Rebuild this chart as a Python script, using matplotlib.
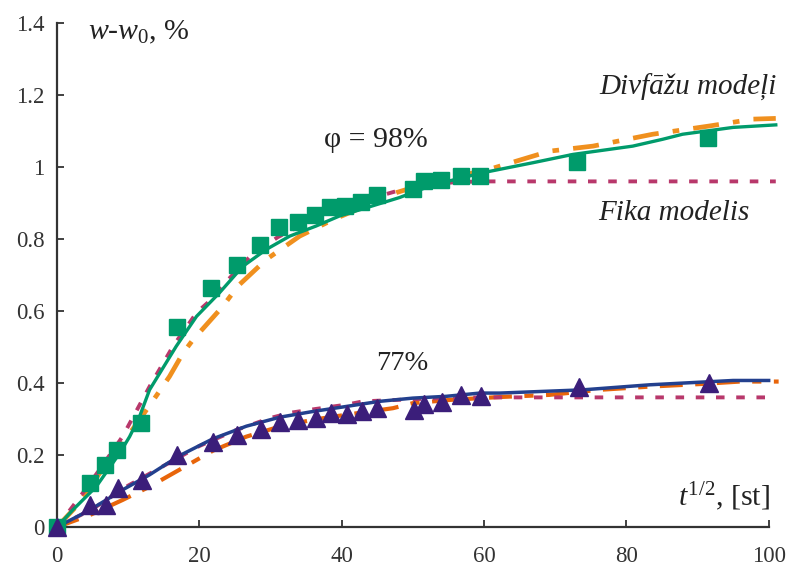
import matplotlib
matplotlib.use("Agg")
import matplotlib.pyplot as plt

plt.rcParams['font.family'] = ['Liberation Serif', 'DejaVu Serif']
plt.rcParams['mathtext.fontset'] = 'custom'
plt.rcParams['mathtext.rm'] = 'Liberation Serif'
plt.rcParams['mathtext.it'] = 'Liberation Serif:italic'

# ---- data: phi = 98% ----
sq98_x = [0, 4.7, 6.8, 8.4, 11.8, 16.8, 21.7, 25.3, 28.5, 31.2, 33.9, 36.3, 38.4, 40.5,
          42.7, 44.9, 50.0, 51.5, 54.0, 56.7, 59.5, 73.1, 91.5]
sq98_y = [0, 0.122, 0.172, 0.213, 0.29, 0.556, 0.664, 0.729, 0.783, 0.833, 0.847, 0.868,
          0.889, 0.892, 0.902, 0.922, 0.938, 0.96, 0.965, 0.976, 0.975, 1.015, 1.08]

fit98_x = [0, 2.2, 5.5, 8.8, 10.2, 11.6, 13, 16.75, 19.6, 22.8, 26.1, 29.4, 32.7, 36.4,
           39.7, 43.5, 48.1, 52.8, 59.8, 66.9, 72.5, 80.9, 85.1, 87.9, 95, 101]
fit98_y = [0, 0.047, 0.112, 0.205, 0.251, 0.307, 0.381, 0.502, 0.585, 0.65, 0.724, 0.771,
           0.808, 0.836, 0.864, 0.887, 0.915, 0.95, 0.984, 1.012, 1.035, 1.058, 1.077,
           1.091, 1.11, 1.117]

div98_x = [0, 2.7, 6, 9.2, 11.6, 13.9, 15.8, 17.7, 19.1, 21, 23.3, 25.4, 29.4, 34.1, 38.8,
           43.5, 47.7, 52, 60.8, 69.2, 75.3, 83.7, 91.7, 97.8, 101]
div98_y = [0, 0.057, 0.15, 0.233, 0.298, 0.363, 0.418, 0.483, 0.52, 0.562, 0.613, 0.669,
           0.743, 0.808, 0.854, 0.893, 0.929, 0.955, 0.994, 1.044, 1.058, 1.091, 1.114,
           1.133, 1.135]

fik98_x = [0, 2.2, 3.6, 6, 9.2, 13, 16.3, 19.6, 21.9, 23.8, 27.1, 31, 35, 40, 44, 47.7,
           52, 56, 60, 101]
fik98_y = [0, 0.057, 0.094, 0.16, 0.251, 0.39, 0.502, 0.595, 0.636, 0.682, 0.751, 0.805,
           0.845, 0.885, 0.912, 0.933, 0.95, 0.958, 0.96, 0.96]

# ---- data: phi = 77% ----
tri77_x = [0, 4.7, 6.9, 8.5, 11.9, 16.8, 21.9, 25.3, 28.6, 31.3, 33.8, 36.4, 38.5, 40.7,
           42.9, 45.0, 50.1, 51.6, 54.1, 56.8, 59.6, 73.3, 91.6]
tri77_y = [0, 0.061, 0.061, 0.108, 0.131, 0.2, 0.236, 0.256, 0.272, 0.293, 0.298, 0.302,
           0.316, 0.314, 0.321, 0.33, 0.326, 0.342, 0.346, 0.368, 0.363, 0.389, 0.4]

fit77_x = [0, 4.6, 9.2, 13, 17.2, 21.9, 26.6, 31.3, 36, 40.7, 45.3, 50, 54.7, 59.4, 62.2,
           73.9, 83.3, 95, 100]
fit77_y = [0, 0.047, 0.103, 0.145, 0.198, 0.245, 0.28, 0.305, 0.321, 0.335, 0.349, 0.358,
           0.363, 0.372, 0.372, 0.381, 0.395, 0.407, 0.407]

div77_x = [0, 4.6, 9.2, 13, 17.2, 21.9, 26.6, 31.3, 36, 40.7, 47.2, 50, 55.2, 62.2, 69.2,
           76.2, 83.3, 90.3, 96, 101.4]
div77_y = [0, 0.033, 0.075, 0.112, 0.159, 0.212, 0.251, 0.279, 0.298, 0.312, 0.33, 0.344,
           0.353, 0.361, 0.367, 0.381, 0.39, 0.397, 0.404, 0.404]

fik77_x = [0, 5, 10, 15, 20, 25, 30, 33, 36.4, 40.7, 43, 47.7, 55, 60, 101]
fik77_y = [0, 0.05, 0.115, 0.17, 0.225, 0.268, 0.303, 0.318, 0.328, 0.34, 0.349, 0.353,
           0.359, 0.36, 0.36]

x_ticks = [0, 20, 40, 60, 80, 100]
y_ticks = [0, 0.2, 0.4, 0.6, 0.8, 1.0, 1.2, 1.4]
y_ticklabels = ['0', '0.2', '0.4', '0.6', '0.8', '1', '1.2', '1.4']

GREEN = '#009B6B'
PURPLE = '#3B1E7A'
NAVY = '#23408E'
MAGENTA = '#B8386B'
ORANGE98 = '#F0901E'
ORANGE77 = '#E8650A'
AXC = '#333333'

fig = plt.figure(figsize=(7.9, 5.68), dpi=100)
ax = fig.add_axes([0.0722, 0.0722, 0.9008, 0.8873])

# 98% curves
ax.plot(div98_x, div98_y, color=ORANGE98, lw=3.4, dashes=(5.5, 3, 1.4, 3),
        clip_on=False, zorder=2)
ax.plot(fik98_x, fik98_y, color=MAGENTA, lw=2.8, dashes=(2.2, 3),
        clip_on=False, zorder=3)
ax.plot(fit98_x, fit98_y, color=GREEN, lw=2.4, clip_on=False, zorder=4)
ax.plot(sq98_x, sq98_y, linestyle='none', marker='s', ms=11.5, color=GREEN,
        mec=GREEN, clip_on=False, zorder=5)

# 77% curves
ax.plot(div77_x, div77_y, color=ORANGE77, lw=3.0, dashes=(5.5, 3, 2.2, 3),
        clip_on=False, zorder=2)
ax.plot(fik77_x, fik77_y, color=MAGENTA, lw=2.8, dashes=(2.2, 3),
        clip_on=False, zorder=3)
ax.plot(fit77_x, fit77_y, color=NAVY, lw=2.5, clip_on=False, zorder=4)
ax.plot(tri77_x, tri77_y, linestyle='none', marker='^', ms=13, color=PURPLE,
        mec=PURPLE, clip_on=False, zorder=5)

ax.set_xlim(0, 100)
ax.set_ylim(0, 1.4)
ax.set_xticks(x_ticks)
ax.set_xticklabels([str(v) for v in x_ticks])
ax.set_yticks(y_ticks)
ax.set_yticklabels(y_ticklabels)

for s in ['top', 'right']:
    ax.spines[s].set_visible(False)
for s in ['left', 'bottom']:
    ax.spines[s].set_linewidth(1.6)
    ax.spines[s].set_color(AXC)

ax.tick_params(axis='both', direction='in', length=5, width=1.3, color=AXC,
               labelsize=16.5, labelcolor=AXC)
ax.tick_params(axis='x', pad=14)
ax.tick_params(axis='y', pad=9)

tc = '#222222'
ax.text(88/790, 1 - 32/568, r'$w$-$w_0$, %', transform=fig.transFigure,
        fontsize=21.5, color=tc, ha='left', va='center')
ax.text(770/790, 1 - 497/568, r'$t^{1/2}$, [st]', transform=fig.transFigure,
        fontsize=21.5, color=tc, ha='right', va='center')
ax.text(376/790, 1 - 140/568, 'φ = 98%', transform=fig.transFigure,
        fontsize=21.5, color=tc, ha='center', va='center')
ax.text(402/790, 1 - 363/568, '77%', transform=fig.transFigure,
        fontsize=20.5, color=tc, ha='center', va='center')
ax.text(777/790, 1 - 87/568, 'Divfāžu modeļi', transform=fig.transFigure,
        fontsize=21, color=tc, ha='right', va='center', style='italic')
ax.text(750/790, 1 - 213/568, 'Fika modelis', transform=fig.transFigure,
        fontsize=21, color=tc, ha='right', va='center', style='italic')

fig.savefig('out.png', dpi=100)
